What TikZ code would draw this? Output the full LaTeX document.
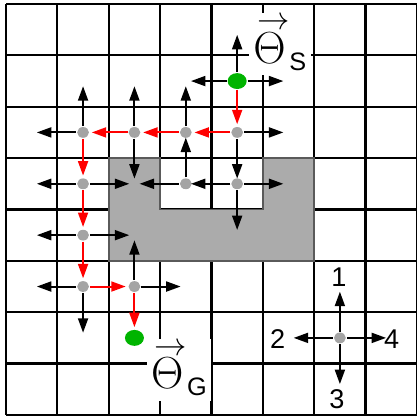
\documentclass[tikz,border=0pt]{standalone}
\usepackage{amsmath}
\usepackage{graphicx}
\usepackage{fontspec}
\setsansfont{Liberation Sans}
\usepackage{xcolor}
\usetikzlibrary{arrows.meta,shapes.geometric}
\definecolor{pathRed}{HTML}{FF0000}
\definecolor{endGreen}{HTML}{00B400}
\definecolor{dotGray}{HTML}{A4A4A4}
\definecolor{obstGray}{HTML}{ABABAB}
\definecolor{obstEdge}{HTML}{5A5A5A}
\newcommand{\thetalbl}[1]{\setbox0\hbox{$\Theta$}%
  \vbox{\hbox to \wd0{\kern2pt\resizebox{\wd0}{!}{$\rightarrow$}\hss}\kern-6.5pt\box0}%
  \kern2pt\raisebox{-4pt}{\sffamily\fontsize{14}{14}\selectfont #1}}

\begin{document}
\begin{tikzpicture}[>={Triangle[length=8pt,width=5.5pt]}, line width=1.1pt,
  gridline/.style={line width=1.2pt},
  obst/.style={fill=obstGray,draw=obstEdge,line width=1pt},
  dot/.style={ellipse,fill=dotGray,inner sep=0pt,minimum width=2.3mm,minimum height=2.1mm},
  endpt/.style={ellipse,fill=endGreen,inner sep=0pt,minimum width=3.7mm,minimum height=3.1mm},
  succ/.style={->,shorten >=1mm},
  route/.style={->,pathRed,shorten >=1pt},
  lbl/.style={fill=white,inner xsep=2.5pt,inner ysep=2.5pt,anchor=base west,font=\fontsize{25}{25}\selectfont},
  num/.style={font=\sffamily\fontsize{15}{15}\selectfont}]
\useasboundingbox (-0.117,-0.04) rectangle (8,8.078);
% grid and obstacle
\draw[gridline] (0,0) grid (8,8);
\draw[obst] (2,5) -- (3,5) -- (3,4) -- (5,4) -- (5,5) -- (6,5) -- (6,3) -- (2,3) -- cycle;
% cell centres, c<col><row>, row counted from the top
\foreach \c in {0,...,7}
  \foreach \r in {0,...,7}
    \coordinate (c\c\r) at (\c+0.5,7.5-\r);
% expanded cells
\node[endpt] (s) at (c41) {};
\node[dot] (n42) at (c42) {};
\node[dot] (n32) at (c32) {};
\node[dot] (n22) at (c22) {};
\node[dot] (n12) at (c12) {};
\node[dot] (n33) at (c33) {};
\node[dot] (n43) at (c43) {};
\node[dot] (n13) at (c13) {};
\node[dot] (n14) at (c14) {};
\node[dot] (n15) at (c15) {};
\node[dot] (n25) at (c25) {};
\node[endpt] (g) at (c26) {};
\node[dot] (key) at (c66) {};
% successors
\draw[succ] (s) -- (c40);
\draw[succ] (s) -- (c31);
\draw[succ] (s) -- (c51);
\draw[succ] (n42) -- (c52);
\draw[succ] (n42) -- (c43);
\draw[succ] (n32) -- (c31);
\draw[succ] (n22) -- (c21);
\draw[succ] (n22) -- (c23);
\draw[succ] (n12) -- (c11);
\draw[succ] (n12) -- (c02);
\draw[succ] (n33) -- (c32);
\draw[succ] (n33) -- (c23);
\draw[succ] (n43) -- (c33);
\draw[succ] (n43) -- (c53);
\draw[succ] (n43) -- (c44);
\draw[succ] (n13) -- (c03);
\draw[succ] (n13) -- (c23);
\draw[succ] (n14) -- (c04);
\draw[succ] (n14) -- (c24);
\draw[succ] (n15) -- (c05);
\draw[succ] (n15) -- (c16);
\draw[succ] (n25) -- (c24);
\draw[succ] (n25) -- (c35);
% path found
\draw[route] (s) -- (n42);
\draw[route] (n42) -- (n32);
\draw[route] (n32) -- (n22);
\draw[route] (n22) -- (n12);
\draw[route] (n12) -- (n13);
\draw[route] (n13) -- (n14);
\draw[route] (n14) -- (n15);
\draw[route] (n15) -- (n25);
\draw[route] (n25) -- (g);
% start and goal labels
\node[lbl] (thS) at (4.71,6.85) {\thetalbl{S}};
\node[lbl] (thG) at (2.72,0.51) {\thetalbl{G}};
% direction key
\draw[succ] (key) -- (c65);
\draw[succ] (key) -- (c56);
\draw[succ] (key) -- (c67);
\draw[succ] (key) -- (c76);
\node[num] (k1) at (6.48,2.69) {1};
\node[num] (k2) at (5.29,1.48) {2};
\node[num] (k3) at (6.44,0.31) {3};
\node[num] (k4) at (7.51,1.48) {4};
\end{tikzpicture}
\end{document}
